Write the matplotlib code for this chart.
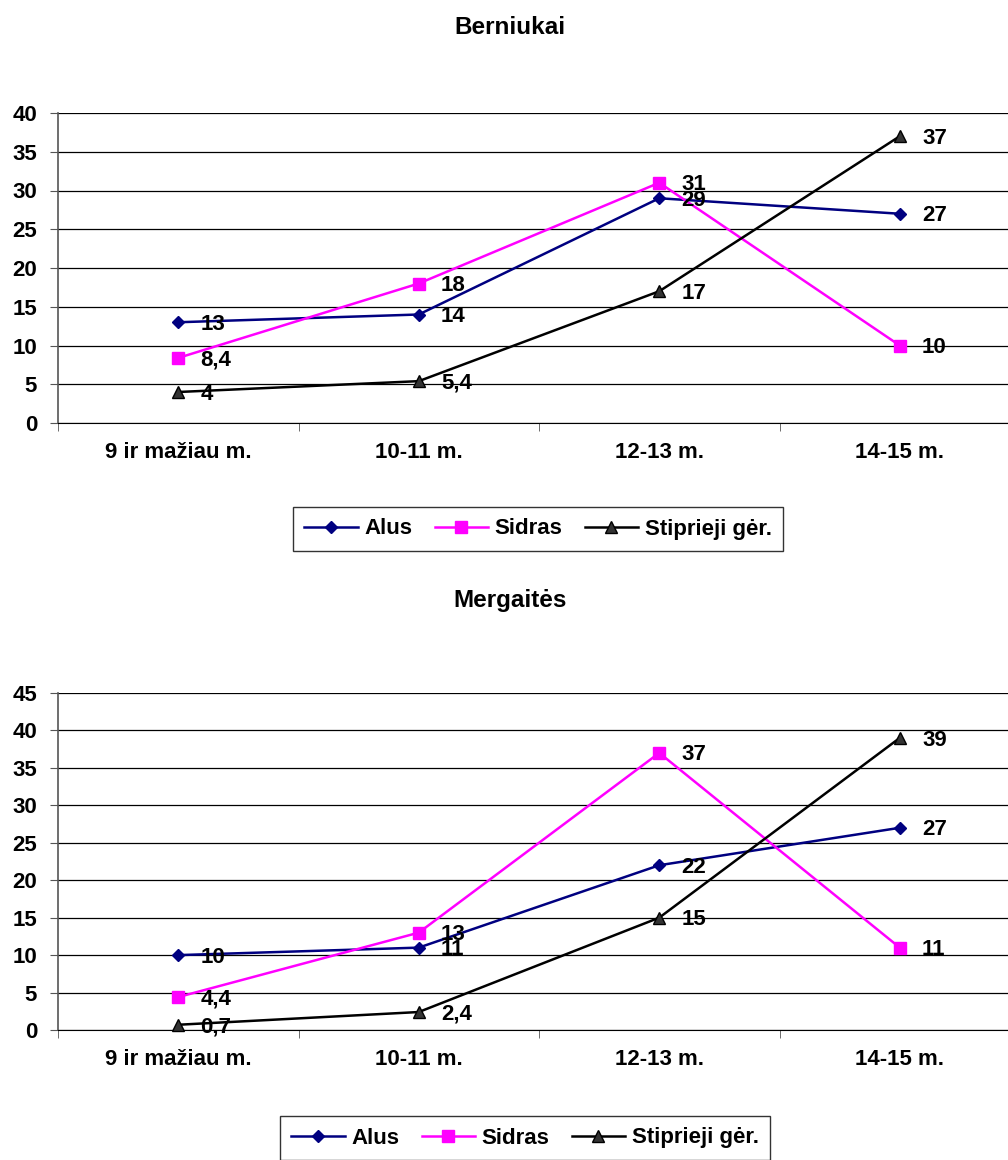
import matplotlib.pyplot as plt
from matplotlib.ticker import MultipleLocator, FixedLocator

plt.rcParams['font.family'] = ['Liberation Sans', 'DejaVu Sans']
plt.rcParams['font.weight'] = 'bold'

categories = ['9 ir mažiau m.', '10-11 m.', '12-13 m.', '14-15 m.']
series_names = ['Alus', 'Sidras', 'Stiprieji gėr.']

berniukai_alus = [13, 14, 29, 27]
berniukai_sidras = [8.4, 18, 31, 10]
berniukai_stiprieji = [4, 5.4, 17, 37]

mergaites_alus = [10, 11, 22, 27]
mergaites_sidras = [4.4, 13, 37, 11]
mergaites_stiprieji = [0.7, 2.4, 15, 39]

FS = 16

styles = [
    dict(color='#000080', marker='D', markersize=6, mfc='#000080', mec='#000080'),
    dict(color='#FF00FF', marker='s', markersize=8, mfc='#FF00FF', mec='#FF00FF'),
    dict(color='black', marker='^', markersize=8, mfc='#333333', mec='black'),
]


def fmt(v):
    return ('%g' % v).replace('.', ',')


def draw(ax, title, title_y, data, ymax, legend_pos, fig):
    x = list(range(len(categories)))
    handles = []
    for vals, st, name in zip(data, styles, series_names):
        h, = ax.plot(x, vals, lw=1.8, label=name, clip_on=False, zorder=3, **st)
        handles.append(h)
        for xi, v in zip(x, vals):
            ax.annotate(fmt(v), (xi, v), xytext=(16, -1.5), textcoords='offset points',
                        ha='left', va='center', fontsize=FS, fontweight='bold', zorder=4)
    ax.set_xlim(-0.5, 3.5)
    ax.set_ylim(0, ymax)
    ax.yaxis.set_major_locator(MultipleLocator(5))
    ax.yaxis.grid(True, color='black', lw=0.9)
    ax.set_axisbelow(True)
    ax.set_xticks(x)
    ax.set_xticklabels(categories, fontsize=FS, fontweight='bold')
    ax.xaxis.set_minor_locator(FixedLocator([-0.5, 0.5, 1.5, 2.5, 3.5]))
    ax.tick_params(axis='x', which='major', length=0, pad=14)
    ax.tick_params(axis='x', which='minor', length=6, direction='out', color='#555555')
    ax.tick_params(axis='y', length=6, direction='out', labelsize=FS, pad=9, color='#555555')
    for lbl in ax.get_yticklabels():
        lbl.set_fontweight('bold')
    for s in ['top', 'right']:
        ax.spines[s].set_visible(False)
    ax.spines['left'].set_color('#555555')
    ax.spines['left'].set_linewidth(1.2)
    ax.spines['bottom'].set_color('black')
    fig.text(510 / 1008, 1 - title_y / 1160, title, ha='center', va='center',
             fontsize=17.5, fontweight='bold')
    leg = fig.legend(handles=handles, loc='center', bbox_to_anchor=legend_pos,
                     ncol=3, frameon=True, fancybox=False, fontsize=FS,
                     handlelength=2.4, handletextpad=0.3, columnspacing=1.0,
                     borderpad=0.5, edgecolor='black')
    leg.get_frame().set_linewidth(1.0)
    for t in leg.get_texts():
        t.set_fontweight('bold')


fig = plt.figure(figsize=(10.08, 11.6), dpi=100)
ax1 = fig.add_axes([58 / 1008, 1 - 423 / 1160, 962 / 1008, 310 / 1160])
ax2 = fig.add_axes([58 / 1008, 1 - 1030 / 1160, 962 / 1008, 337 / 1160])

draw(ax1, 'Berniukai', 27, [berniukai_alus, berniukai_sidras, berniukai_stiprieji],
     40, (538 / 1008, 1 - 529 / 1160), fig)
draw(ax2, 'Mergaitės', 600, [mergaites_alus, mergaites_sidras, mergaites_stiprieji],
     45, (525 / 1008, 1 - 1138 / 1160), fig)

fig.savefig('out.png', dpi=100)
